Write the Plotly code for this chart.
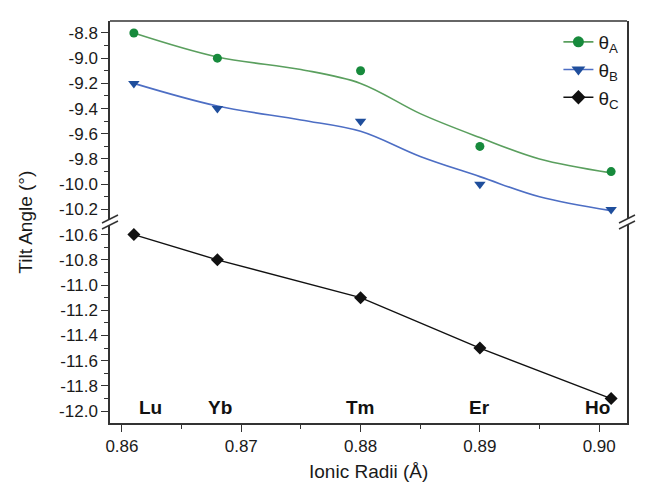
import numpy as np
import plotly.graph_objects as go

# ---------------- data ----------------
elements = ["Lu", "Yb", "Tm", "Er", "Ho"]
radii = [0.861, 0.868, 0.880, 0.890, 0.901]
theta_a = [-8.8, -9.0, -9.1, -9.7, -9.9]
theta_b = [-9.2, -9.4, -9.5, -10.0, -10.2]
theta_c = [-10.6, -10.8, -11.1, -11.5, -11.9]

# smooth fit curves
fit_x = [0.861, 0.868, 0.875, 0.880, 0.885, 0.890, 0.895, 0.901]
fit_a = [-8.80, -8.99, -9.09, -9.20, -9.44, -9.63, -9.80, -9.91]
fit_b = [-9.20, -9.38, -9.49, -9.58, -9.78, -9.94, -10.10, -10.21]

x_ticks = [0.86, 0.87, 0.88, 0.89, 0.90]
x_ticklabels = ["0.86", "0.87", "0.88", "0.89", "0.90"]
y_upper_ticks = [-8.8, -9.0, -9.2, -9.4, -9.6, -9.8, -10.0, -10.2]
y_upper_labels = ["-8.8", "-9.0", "-9.2", "-9.4", "-9.6", "-9.8", "-10.0", "-10.2"]
y_lower_ticks = [-10.6, -10.8, -11.0, -11.2, -11.4, -11.6, -11.8, -12.0]
y_lower_labels = ["-10.6", "-10.8", "-11.0", "-11.2", "-11.4", "-11.6", "-11.8", "-12.0"]

# ---------------- styles ----------------
FONT = "Arial, Liberation Sans, sans-serif"
GREEN_M = "#178a3c"
GREEN_L = "#5a9f5e"
BLUE_M = "#1f4e9c"
BLUE_L = "#4d6ec4"
BLACK = "#111111"
FRAME = "#333333"

fig = go.Figure()

# fit curves
fig.add_trace(go.Scatter(x=fit_x, y=fit_a, mode="lines", line=dict(color=GREEN_L, width=1.6, shape="spline", smoothing=1.0),
                         showlegend=False, xaxis="x", yaxis="y", hoverinfo="skip"))
fig.add_trace(go.Scatter(x=fit_x, y=fit_b, mode="lines", line=dict(color=BLUE_L, width=1.6, shape="spline", smoothing=1.0),
                         showlegend=False, xaxis="x", yaxis="y", hoverinfo="skip"))
# data markers
fig.add_trace(go.Scatter(x=radii, y=theta_a, mode="markers", marker=dict(symbol="circle", size=9, color=GREEN_M),
                         showlegend=False, xaxis="x", yaxis="y"))
fig.add_trace(go.Scatter(x=radii, y=theta_b, mode="markers", marker=dict(symbol="triangle-down", size=10, color=BLUE_M),
                         showlegend=False, xaxis="x", yaxis="y"))
fig.add_trace(go.Scatter(x=radii, y=theta_c, mode="lines+markers", line=dict(color=BLACK, width=1.4),
                         marker=dict(symbol="diamond", size=10, color=BLACK),
                         showlegend=False, xaxis="x", yaxis="y2"))

# legend proxies
fig.add_trace(go.Scatter(x=[None], y=[None], mode="lines+markers", name="θ<sub>A</sub>",
                         line=dict(color=GREEN_L, width=1.6), marker=dict(symbol="circle", size=11, color=GREEN_M),
                         xaxis="x", yaxis="y"))
fig.add_trace(go.Scatter(x=[None], y=[None], mode="lines+markers", name="θ<sub>B</sub>",
                         line=dict(color=BLUE_L, width=1.6), marker=dict(symbol="triangle-down", size=12, color=BLUE_M),
                         xaxis="x", yaxis="y"))
fig.add_trace(go.Scatter(x=[None], y=[None], mode="lines+markers", name="θ<sub>C</sub>",
                         line=dict(color=BLACK, width=1.4), marker=dict(symbol="diamond", size=11, color=BLACK),
                         xaxis="x", yaxis="y"))

tickfont = dict(family=FONT, size=17, color="#1a1a1a")

upper_minor = list(np.round(np.arange(-8.9, -10.25, -0.2), 2))
lower_minor = list(np.round(np.arange(-10.7, -12.0, -0.2), 2))

fig.update_layout(
    width=645, height=484,
    margin=dict(l=102, r=26, t=13, b=69),
    paper_bgcolor="white", plot_bgcolor="white",
    font=dict(family=FONT, size=17, color="#1a1a1a"),
    xaxis=dict(domain=[0, 1], anchor="y2", range=[0.859, 0.90233],
               tickmode="array", tickvals=x_ticks, ticktext=x_ticklabels,
               ticks="outside", ticklen=7, tickwidth=1.3, tickcolor=FRAME,
               minor=dict(tickvals=[0.865, 0.875, 0.885, 0.895], ticklen=4, tickwidth=1.2, tickcolor=FRAME),
               showline=True, linecolor=FRAME, linewidth=1.5, showgrid=False, zeroline=False,
               tickfont=tickfont),
    yaxis=dict(domain=[0.5, 1], anchor="x", range=[-10.3, -8.705],
               tickmode="array", tickvals=y_upper_ticks, ticktext=y_upper_labels,
               ticks="outside", ticklen=7, tickwidth=1.3, tickcolor=FRAME,
               minor=dict(tickvals=upper_minor, ticklen=4, tickwidth=1.2, tickcolor=FRAME),
               showline=True, mirror=True, linecolor=FRAME, linewidth=1.5, showgrid=False, zeroline=False,
               tickfont=tickfont),
    yaxis2=dict(domain=[0, 0.5], anchor="x", range=[-12.094, -10.5],
                tickmode="array", tickvals=y_lower_ticks, ticktext=y_lower_labels,
                ticks="outside", ticklen=7, tickwidth=1.3, tickcolor=FRAME,
                minor=dict(tickvals=lower_minor, ticklen=4, tickwidth=1.2, tickcolor=FRAME),
                showline=True, mirror=True, linecolor=FRAME, linewidth=1.5, showgrid=False, zeroline=False,
                tickfont=tickfont),
    legend=dict(x=0.995, y=0.995, xanchor="right", yanchor="top", bgcolor="rgba(0,0,0,0)",
                font=dict(family=FONT, size=19, color="#1a1a1a"), tracegroupgap=0),
    showlegend=True,
)

# top frame line
fig.add_shape(type="line", xref="paper", yref="paper", x0=0, x1=1, y0=1, y1=1,
              line=dict(color=FRAME, width=1.5))

# axis break marks on left and right
for xa in (0, 1):
    fig.add_shape(type="rect", xref="paper", yref="paper", xsizemode="pixel", ysizemode="pixel",
                  xanchor=xa, yanchor=0.5, x0=-3, x1=3, y0=-3, y1=3,
                  fillcolor="white", line=dict(width=0))
    for dy in (-3, 3):
        fig.add_shape(type="line", xref="paper", yref="paper", xsizemode="pixel", ysizemode="pixel",
                      xanchor=xa, yanchor=0.5, x0=-8, x1=8, y0=-4 + dy, y1=4 + dy,
                      line=dict(color=FRAME, width=1.5))

# element labels
label_shift = [17, 3, 0, 0, -14]
for el, rx, sh in zip(elements, radii, label_shift):
    fig.add_annotation(x=rx, y=-12.0, xref="x", yref="y2", text=f"<b>{el}</b>", showarrow=False,
                       xshift=sh, yshift=4, font=dict(family=FONT, size=19, color="#111111"))

# axis titles
fig.add_annotation(x=-0.165, y=0.5, xref="paper", yref="paper", text="Tilt Angle (°)", textangle=-90,
                   showarrow=False, xanchor="center", yanchor="middle",
                   font=dict(family=FONT, size=19, color="#1a1a1a"))
fig.add_annotation(x=0.5, y=0, xref="paper", yref="paper", text="Ionic Radii (Å)", showarrow=False,
                   xanchor="center", yanchor="top", yshift=-36,
                   font=dict(family=FONT, size=19, color="#1a1a1a"))

fig.write_html("out.html")
